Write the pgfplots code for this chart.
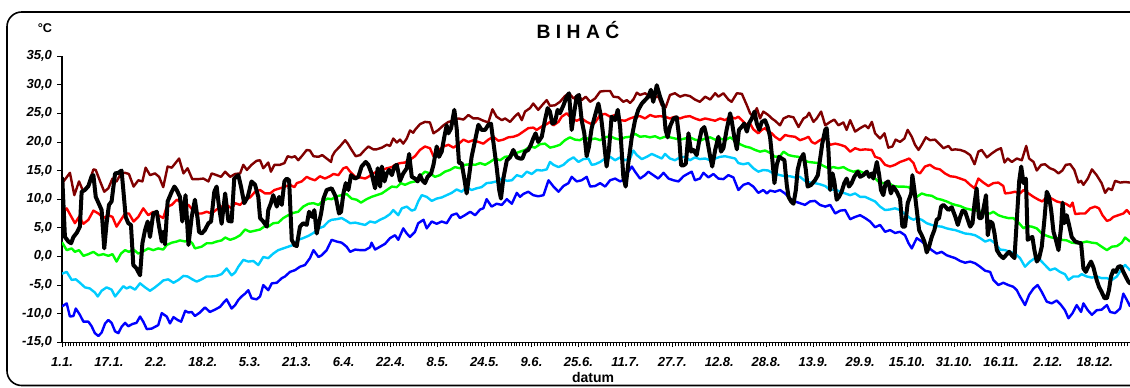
\documentclass[border=0pt]{standalone}
\usepackage{fontspec}
\setmainfont{Liberation Sans}
\usepackage{pgfplots}
\pgfplotsset{compat=1.18}
\definecolor{cmaroon}{HTML}{800000}
\definecolor{cred}{HTML}{FF0000}
\definecolor{cgreen}{HTML}{00FF00}
\definecolor{ccyan}{HTML}{00CCFF}
\definecolor{cblue}{HTML}{0000FF}
\begin{document}
\begin{tikzpicture}[x=0.75pt,y=0.75pt]
\useasboundingbox (0,0) rectangle (1130,387);
\draw[line width=1.2pt, rounded corners=11pt] (7,1.5) rectangle (1165,375);
\node[font=\bfseries\fontsize{14.5}{16}\selectfont] at (578,356.5) {B I H A Ć};
\node[font=\bfseries\fontsize{9.5}{11}\selectfont] at (45,358.5) {°C};
\node[font=\bfseries\fontsize{10.5}{12}\selectfont] at (593,10) {datum};
\begin{axis}[
  at={(46.5pt,33.525pt)}, anchor=south west,
  scale only axis, width=803.25pt, height=214.7pt,
  xmin=1, xmax=366, ymin=-15, ymax=35,
  axis x line*=bottom, axis y line*=left,
  axis line style={black, line width=0.9pt, -},
  xtick={1,17,...,353},
  xticklabels={1.1.,17.1.,2.2.,18.2.,5.3.,21.3.,6.4.,22.4.,8.5.,24.5.,9.6.,25.6.,11.7.,27.7.,12.8.,28.8.,13.9.,29.9.,15.10.,31.10.,16.11.,2.12.,18.12.},
  minor xtick={1,2,...,366},
  ytick={-15,-10,...,35},
  yticklabels={{-15,0},{-10,0},{-5,0},{0,0},{5,0},{10,0},{15,0},{20,0},{25,0},{30,0},{35,0}},
  tick label style={font=\bfseries\itshape\fontsize{9.8}{11}\selectfont},
  xticklabel style={yshift=-4.5pt},
  yticklabel style={xshift=-0.5pt},
  major tick length=3.5pt, minor tick length=3pt,
  tick style={black, line width=0.5pt},
  tick align=outside,
  every axis plot/.append style={line join=round, line cap=round},
]
\addplot[cmaroon, line width=1.8pt] coordinates {
(1.1,12.8)(3.7,14.6)(5.2,10.7)(6.8,13.1)(8.3,11.3)(10,12.5)(11.7,15.2)(12.5,15.1)(14,13.1)(15.4,11.3)(16.8,11.9)(18.2,13.6)(19.6,13.1)(21.1,14.5)(22.5,14.6)(23.8,14.4)(25.4,12.2)(27,13.3)(28.4,13.1)(29.5,15.5)(31,14.2)(32.7,14.5)(34.1,13.9)(35.5,12.1)(37,15.7)(38.4,15.5)(39.5,16.2)(40.9,17.1)(42.4,14.5)(43.8,15.4)(45.4,13.5)(47.5,13.5)(49.2,13.6)(50.9,13.1)(52,14.5)(53.7,14.2)(55.2,13.9)(56.6,14.8)(58.3,13.9)
(60,14.4)(61.7,14.5)(62.8,16.0)(64,15.1)(65.6,16.0)(67.3,16.7)(68.5,16.8)(69.6,15.4)(71.3,16.4)(72.2,14.8)(73.4,16.0)(75.3,16.0)(76.8,16.3)(77.9,17.5)(79.3,17.3)(80.4,17.5)(81.5,16.8)(82.7,17.5)(84.4,18.6)(85.5,18.5)(86.7,17.5)(88.4,17.4)(89.7,17.7)(91.2,17.1)(92.7,16.5)(93.1,17.5)(94,18.3)(95.7,19.2)(97.5,20.3)(98.4,19.7)(99.7,18.6)(101.1,17.5)(102.6,17.7)(104,18.5)(105.4,19.2)(107.1,18.7)(108.2,18.7)(110,19.0)(111.7,19.5)(112.8,19.3)(113.9,20.6)(115.1,19.9)(116.2,20.4)(117.3,19.7)(118.5,20.6)(119.6,22.0)(120.7,21.6)
(121.3,22.1)(123,23.1)(124.7,23.5)(126.4,23.4)(127.6,21.5)(129.3,22.1)(131,22.9)(132.7,23.5)(134.4,23.7)(136.1,24.1)(137.8,23.9)(139.5,24.7)(141.2,24.1)(142.9,24.1)(144.6,23.7)(146.3,23.4)(147.7,25.7)(149.1,24.4)(150.9,23.8)(152,24.1)(153.7,23.5)(155.4,24.5)(156.5,25.0)(157.7,23.8)(158.8,25.3)(160.5,25.9)(161.6,26.7)(163.3,25.6)(165.1,26.7)(166.2,27.3)(167.3,26.3)(169,26.4)(170.7,27.0)(172.4,28.0)(173.8,28.5)(175.3,27.6)(177,28.2)(178.1,27.3)(179.5,27.9)(181,27.0)(182.7,27.6)
(184.4,28.8)(186.1,28.9)(187.8,28.9)(188.9,27.9)(190.6,27.8)(192.3,27.0)(193.5,27.3)(194.6,26.8)(195.7,27.4)(196.9,28.6)(198,28.2)(199.7,28.5)(201.4,27.9)(202.5,27.6)(204.2,28.0)(205.4,26.4)(206.7,26.0)(208.2,28.2)(209.9,28.5)(211.6,27.9)(213.3,28.2)(215,28.0)(216.7,27.4)(218.4,27.0)(220.2,27.9)(221.9,27.4)(223.6,28.5)(224.7,27.9)(226.4,28.5)(228.1,27.4)(229.2,27.0)(231,28.5)(232.7,28.4)(234.4,26.4)(235.5,25.0)(236.6,24.4)(237.8,25.9)(238.9,24.1)(240,25.3)(241.7,24.7)(242.9,24.1)(244,23.7)
(245.7,22.9)(246.9,24.1)(248.6,24.5)(250.3,24.3)(252,22.6)(253.7,24.1)(254.8,24.4)(255.6,25.1)(257.1,23.5)(258.2,24.1)(259.7,25.3)(261.1,22.9)(262.8,23.5)(264.2,23.9)(265.6,22.9)(267.3,23.4)(268.4,22.1)(269.6,23.8)(271.3,21.8)(273,22.4)(274.7,22.9)(275.8,22.4)(277,23.5)(278.1,21.5)(279.8,20.6)(281.3,21.5)(282.6,19.0)(284,19.2)(285.1,20.4)(286.6,20.0)(288.1,20.6)(289.2,22.1)(290.6,20.9)(291.7,19.5)(292.9,18.6)(294,19.5)(295.4,20.8)(296.8,20.3)(298.5,20.4)(299.9,19.7)(301.4,18.9)(303.1,19.3)(304.2,18.6)(305.4,18.7)
(307.1,18.6)(308.8,18.3)(310.5,17.7)(312,16.1)(313.3,18.3)(314.4,18.6)(316.2,17.3)(317.9,18.0)(319.6,18.6)(321,18.9)(322.2,16.4)(323.3,17.1)(324.7,16.5)(326.4,17.1)(328.1,16.8)(329.6,19.3)(330.6,17.1)(332.1,16.5)(333.2,15.0)(334.7,16.0)(336,16.1)(337.7,15.4)(339.2,15.1)(340.6,14.5)(341.9,15.0)(343.1,16.0)(344.6,16.1)(346,15.1)(347.4,12.9)(348.3,13.2)(349.1,12.5)(350.6,13.6)(352,15.2)(353.6,14.2)(355.3,12.8)(356.5,11.1)(357.6,11.9)(358.8,11.6)(359.9,13.2)(361.6,12.9)(363.3,13.0)(365,12.9)
};
\addplot[cred, line width=1.8pt] coordinates {
(1.1,7.5)(2.6,8.4)(5.4,5.8)(6.8,6.9)(8.3,5.7)(10,6.4)(11.7,8.0)(13.4,7.5)(15.1,6.7)(16.8,7.2)(18.2,6.9)(19.6,5.2)(21.1,6.4)(22.5,7.5)(23.8,7.5)(25.4,6.1)(27,6.9)(28.7,8.4)(30.4,7.2)(32.1,7.8)(33.8,7.2)(35.5,6.7)(36.7,8.7)(38.4,9.0)(40.1,9.9)(41.2,9.6)(43,8.7)(44.1,9.0)(45.4,8.2)(46.9,7.5)(48.6,7.5)(50.3,7.8)(52,7.5)(53.7,8.2)(55.4,8.7)(57.1,9.0)(58.8,8.4)
(60,9.3)(61.7,9.0)(63.4,9.9)(65.1,10.3)(66.8,11.3)(68.5,11.6)(70.2,11.0)(71.9,11.0)(73.4,11.6)(75.3,11.9)(77,12.2)(78.7,12.5)(80.2,12.1)(81,12.8)(82.7,13.1)(84.4,13.9)(85.5,13.6)(87.2,13.3)(88.9,14.0)(90.6,13.6)(92.3,14.0)(93.5,14.4)(95.2,14.2)(96.9,15.4)(98,15.6)(99.2,14.8)(100.9,13.9)(102.6,13.8)(104.3,13.6)(105.4,13.9)(106.8,14.4)(108.2,14.8)(110,15.1)(111.7,15.4)(113.4,15.6)(114.5,16.0)(116.2,16.3)(117.9,16.4)(119,16.8)(120.2,17.1)(121.3,17.5)
(123,18.6)(124.7,19.2)(126.4,18.9)(127.6,17.5)(129.3,18.6)(131,19.2)(132.7,19.5)(134.4,19.0)(136.1,19.6)(137.8,20.4)(139.5,20.0)(141.2,20.3)(142.9,20.0)(144.6,19.7)(146.3,20.4)(148,20.9)(149.7,20.2)(151.4,20.4)(153.1,20.8)(154.8,20.9)(156.5,21.2)(158.2,21.8)(159.9,22.4)(161.6,22.5)(162.8,22.1)(164.5,22.7)(166.2,23.1)(167.3,23.5)(168.5,22.9)(170.2,23.5)(171.3,24.4)(173,25.0)(174.7,24.1)(176.4,23.7)(178.1,24.1)(179.8,23.5)(181.5,23.1)(182.7,23.4)
(184.4,24.7)(186.1,24.9)(187.8,24.4)(189.5,24.7)(191.2,23.8)(192.9,23.7)(194.6,24.1)(196.3,24.4)(198,24.5)(199.7,24.1)(201.4,24.7)(203.1,24.4)(204.8,24.5)(206.5,24.4)(208.2,24.1)(209.9,24.4)(211.6,24.1)(213.3,24.4)(215,24.5)(216.7,24.1)(218.4,23.8)(220.2,24.1)(221.9,23.9)(223.6,23.7)(225.3,24.1)(227,23.8)(228.7,24.4)(230.4,24.1)(231.5,24.4)(232.7,23.8)(234.4,22.9)(235.5,23.2)(236.6,22.2)(238.3,21.5)(239.5,22.1)(240.6,22.4)(241.7,21.8)(242.9,21.5)(244,20.9)
(245.7,20.3)(247.4,21.2)(249.1,21.0)(250.8,20.9)(252.5,20.3)(254.2,20.6)(255.4,20.9)(256.5,20.0)(257.6,19.7)(259.3,20.3)(261.1,20.8)(262.8,19.5)(264.5,19.7)(266.2,19.5)(267.9,19.2)(269.6,18.3)(271.3,18.9)(273,18.6)(274.7,18.7)(277,18.6)(278.1,17.4)(279.8,17.1)(281.5,16.0)(283.2,15.7)(284.9,16.0)(286.6,16.5)(288.3,16.8)(289.7,17.1)(291.2,16.3)(292.3,14.8)(293.4,14.5)(295.1,15.7)(296.8,16.0)(298.5,15.4)(300.2,15.2)(301.9,14.5)(303.7,14.0)(305.4,13.9)
(307.1,13.6)(308.8,13.3)(310.5,12.5)(312,11.9)(313.3,13.6)(315,12.9)(316.7,12.3)(318.4,12.8)(320.1,12.9)(321.8,12.3)(322.4,11.0)(324.1,11.1)(325.8,11.3)(327.5,11.0)(328.7,11.6)(330.4,11.0)(332.1,10.4)(333.8,9.9)(335.1,9.6)(336.6,10.4)(338.3,10.1)(340,9.6)(341.5,9.4)(343.1,9.2)(344.6,8.7)(345.4,9.4)(346.3,7.4)(348,7.5)(349.7,7.5)(351.4,8.4)(353.1,8.7)(354.4,8.4)(355.6,7.2)(357.1,6.2)(358.2,6.4)(359.3,6.9)(361,7.2)(362.7,7.5)(363.9,8.1)(365,7.4)
};
\addplot[cgreen, line width=1.8pt] coordinates {
(1.1,2.4)(2.6,1.1)(4.3,1.4)(5.4,0.8)(6.8,1.1)(8.3,0.1)(10,0.4)(11.7,0.8)(13.4,0.2)(15.1,0.4)(16.8,0.1)(18.2,0.4)(19.6,-0.9)(21.1,0.5)(22.5,1.1)(23.8,0.8)(25.4,1.2)(27,0.5)(28.4,0.8)(30.4,1.4)(32.1,1.1)(33.8,1.4)(35.5,1.2)(36.7,2.0)(38.4,2.4)(40.1,2.6)(41.2,2.8)(43,2.6)(44.1,2.9)(45.4,2.3)(46.3,1.4)(48.6,1.7)(50.3,2.3)(52,2.3)(53.7,2.6)(55.4,2.8)(56.6,3.3)(58.3,2.9)(60,3.2)
(61.7,3.7)(63.4,4.7)(65.1,4.3)(66.8,4.5)(68.5,4.7)(70.2,5.3)(71.3,5.2)(73,5.8)(74.7,5.9)(76.4,6.7)(78.1,7.2)(79.8,7.6)(81.5,7.8)(83.2,8.7)(85,9.2)(86.7,9.3)(88.4,9.0)(89.7,9.6)(91.5,10.1)(92.9,10.0)(94.6,10.5)(96.3,10.7)(98,10.9)(99.7,10.1)(101.4,9.9)(102.9,9.4)(104.8,10.0)(106.5,10.4)(108.2,10.7)(110,11.0)(111.7,11.6)(113.4,12.2)(115.1,12.1)(116.5,12.8)(117.9,12.5)(119.6,12.9)(121.3,13.1)
(123,14.0)(124.7,14.8)(126.4,14.5)(128.1,13.9)(129.8,14.2)(131.5,14.8)(133.2,15.1)(134.9,15.6)(136.6,15.4)(138.3,16.0)(140.1,16.1)(141.8,16.0)(143.5,16.3)(145.2,16.0)(146.9,16.5)(148.6,17.1)(150.3,16.8)(152,17.4)(153.7,17.5)(155.4,18.0)(157.1,18.3)(158.8,18.6)(160.5,19.2)(162.2,19.0)(163.9,19.6)(165.6,19.7)(167.3,19.0)(169,19.2)(170.7,19.5)(172.4,20.3)(174.1,20.8)(175.8,20.4)(177.5,20.3)(179.2,20.8)(180.9,20.4)(182.7,20.6)
(184.4,20.3)(186.1,20.8)(187.8,21.0)(189.5,20.6)(191.2,20.4)(192.9,20.8)(194.6,20.9)(196.3,21.4)(198,20.9)(199.7,21.0)(201.4,20.8)(203.1,21.0)(204.8,20.6)(206.5,20.9)(208.2,20.8)(209.9,20.6)(211.6,20.4)(213.3,20.6)(215,20.8)(216.7,20.4)(218.4,20.2)(220.2,20.6)(221.9,20.8)(223.6,20.4)(225.3,20.6)(227,20.3)(228.7,20.8)(230.4,20.2)(232.1,19.6)(233.8,19.2)(235.5,19.0)(237.2,18.6)(238.9,18.3)(240.6,18.5)(242.3,18.1)(244,17.4)
(245.7,17.5)(246.9,18.3)(248.6,17.7)(250.3,17.5)(252,17.4)(253.7,16.8)(255.4,16.5)(257.1,16.4)(258.8,16.3)(260.5,15.8)(262.2,15.4)(263.9,15.6)(265.6,15.4)(267.3,15.6)(269,15.1)(270.7,14.8)(272.4,15.0)(274.1,14.6)(275.8,14.5)(277.5,13.9)(279.2,13.1)(280.9,12.8)(282.6,12.9)(284.3,12.3)(286,12.2)(287.8,12.2)(289.5,12.1)(291.2,11.6)(292.3,10.4)(294,11.0)(295.7,10.7)(297.4,10.6)(299.1,10.1)(300.8,9.9)(302.5,9.6)(304.2,9.2)(305.4,9.0)
(307.1,8.8)(308.8,8.4)(310.5,8.2)(312.2,8.1)(313.9,7.8)(315.6,7.5)(317.3,7.5)(318.4,7.8)(320.1,7.2)(321.8,6.9)(323.5,6.7)(325.2,6.7)(327,5.9)(328.7,4.9)(329.8,5.3)(331.5,5.2)(333.2,4.9)(334.9,4.0)(336.6,3.6)(338.3,3.3)(340,3.2)(341.7,2.9)(343.4,2.8)(345.1,2.4)(346.8,2.3)(348.5,2.4)(350.2,2.6)(352,2.4)(353.6,2.3)(355.3,1.7)(357.1,1.1)(358.8,1.7)(360.5,1.8)(362.2,2.4)(363.3,3.3)(365,2.6)
};
\addplot[ccyan, line width=1.8pt] coordinates {
(1.1,-3.0)(2.6,-2.7)(4.3,-4.1)(5.7,-4.0)(7.1,-4.6)(8.8,-5.4)(10.5,-5.6)(12.2,-6.3)(13.2,-7.0)(14.5,-6.0)(16.2,-5.4)(17.9,-5.8)(19.1,-7.0)(20.8,-5.9)(21.9,-5.2)(23,-5.6)(24.2,-5.3)(25.9,-5.8)(27.6,-4.7)(29.3,-5.4)(31,-6.0)(32.7,-5.4)(34.4,-4.7)(35.5,-4.2)(37.2,-4.0)(39,-4.6)(40.7,-4.1)(42.4,-3.4)(43.8,-3.5)(45.4,-4.0)(46.9,-4.4)(48.6,-4.0)(50.3,-3.5)(52,-3.5)(53.7,-3.4)(55.4,-3.1)(57.1,-2.1)(58.8,-3.3)(60,-2.8)
(61.1,-1.8)(62.8,-0.6)(64.5,-0.9)(66.2,-0.8)(67.9,-1.5)(69.6,-0.1)(71.3,-0.3)(73,0.5)(74.7,1.1)(76.4,1.4)(78.1,1.7)(79.8,2.0)(81.5,2.9)(83.2,3.2)(85,3.6)(86.7,4.1)(88.4,4.9)(90.1,5.2)(91.8,6.1)(92.9,6.4)(94.6,6.5)(96.3,6.7)(98,6.2)(99.2,5.8)(100.9,5.9)(102.6,5.7)(104.3,5.5)(106,6.1)(107.7,5.9)(109.4,6.4)(111.1,6.8)(112.8,7.4)(113.9,8.1)(115.6,7.2)(116.8,8.4)(118.5,8.7)(120.2,8.0)(121.3,8.2)
(122.4,9.6)(123.6,10.7)(125.3,10.4)(127,9.7)(128.7,10.1)(130.4,10.3)(132.1,10.7)(133.8,11.1)(135.5,11.7)(137.2,11.3)(138.9,12.1)(140.6,11.6)(142.3,11.9)(144,12.1)(145.7,12.8)(147.4,12.9)(149.1,13.1)(150.9,13.6)(152.6,13.2)(154.3,13.3)(156,14.2)(157.7,13.9)(159.4,14.8)(161.1,14.4)(162.8,15.1)(164.5,15.0)(166.2,15.2)(167.3,16.5)(168.5,16.0)(170.2,15.6)(171.9,16.0)(173.6,16.8)(175.3,17.3)(177,16.5)(178.7,17.0)(180.4,17.1)(181.5,16.0)(182.7,16.1)
(184.4,16.5)(186.1,17.1)(187.8,17.4)(189.5,16.8)(191.2,17.3)(192.9,16.8)(194.6,17.1)(195.7,18.5)(196.9,17.7)(198.6,17.0)(200.3,17.4)(202,17.9)(203.7,17.5)(205.4,17.1)(206.5,17.9)(208.2,17.1)(209.9,16.8)(211.6,17.3)(213.3,17.4)(215,16.8)(216.7,17.3)(218.4,17.0)(220.2,17.1)(221.9,16.8)(223.6,17.1)(225.3,17.4)(227,17.5)(228.7,17.3)(230.4,17.1)(231.5,16.3)(233.2,16.1)(234.9,16.3)(236.6,15.4)(238.3,14.8)(240,15.1)(241.7,15.0)(243.4,14.5)
(245.7,14.2)(247.4,14.0)(249.1,14.0)(250.8,13.8)(252.5,13.9)(254.2,13.2)(255.9,12.9)(257.6,12.8)(259.3,12.6)(261.1,12.3)(262.8,11.6)(264.5,11.7)(266.2,11.3)(267.9,11.0)(269.6,10.7)(271.3,11.0)(273,10.4)(274.7,10.4)(276.4,10.0)(278.1,9.6)(279.8,8.7)(281.5,8.1)(283.2,8.2)(284.9,8.4)(286.6,8.1)(288.3,7.4)(290,6.7)(291.2,6.4)(292.3,6.7)(294,6.4)(295.7,5.8)(297.4,5.5)(299.1,5.3)(300.8,5.2)(302.5,4.9)(304.2,4.7)(305.4,4.6)
(307.1,4.3)(308.8,4.0)(310.5,3.9)(312.2,3.7)(313.9,3.2)(315.6,2.6)(317.3,2.9)(319,2.3)(320.7,1.2)(322.4,1.1)(324.1,0.8)(325.8,0.5)(327.5,-0.3)(329.2,-1.8)(330.9,-0.9)(332.6,-0.3)(334.3,-0.6)(336,-1.5)(337.7,-2.4)(339.4,-2.1)(341.1,-2.7)(342.8,-3.1)(344,-4.1)(345.7,-3.5)(347.4,-3.5)(348.5,-3.1)(350.2,-3.5)(352,-3.7)(353.6,-3.5)(355.3,-3.8)(357.1,-3.8)(358.8,-4.1)(360.5,-3.5)(362.2,-2.1)(363.3,-1.5)(365,-2.4)
};
\addplot[cblue, line width=1.8pt] coordinates {
(1.1,-8.7)(2.6,-8.2)(3.7,-10.5)(4.9,-10.4)(5.7,-9.1)(7.1,-10.2)(8.3,-11.4)(10,-11.4)(11.1,-12.2)(12.2,-13.4)(13.4,-13.9)(14.5,-13.3)(15.7,-11.7)(16.8,-11.1)(17.9,-11.6)(19.1,-13.1)(20.2,-13.4)(21.3,-12.3)(22.5,-11.6)(23.6,-12.2)(25,-11.8)(26.4,-11.6)(27.6,-10.5)(28.7,-11.4)(29.9,-12.7)(31.6,-12.6)(32.7,-12.3)(33.8,-12.0)(35,-9.9)(36.7,-10.5)(37.8,-11.7)(39,-10.6)(40.4,-11.1)(41.6,-11.4)(43,-9.5)(44.1,-9.8)(45.2,-9.7)(46.3,-10.4)(48,-9.8)(49.7,-8.9)(51.4,-9.7)(53.1,-9.3)(54.9,-8.8)(56,-8.1)(57.1,-7.5)(58.8,-9.1)(60,-8.5)
(61.1,-7.6)(62.2,-7.0)(63.4,-6.5)(64.5,-5.9)(65.6,-7.3)(67.3,-7.5)(68.5,-7.0)(69.6,-5.0)(71.3,-5.9)(72.5,-4.7)(74.2,-4.6)(75.9,-3.8)(77,-3.5)(78.7,-2.7)(80.4,-2.4)(82.1,-1.8)(83.8,-1.5)(85.5,-0.3)(86.7,1.1)(88.4,-0.1)(89.5,0.2)(91.2,1.1)(92.9,2.9)(94.6,2.6)(96.3,2.4)(98,1.7)(99.2,0.8)(100.9,1.2)(102.6,1.1)(104.3,1.1)(106,1.6)(106.5,2.4)(107.7,1.2)(109.4,1.7)(111.1,2.2)(112.8,3.2)(114.5,3.7)(115.6,2.9)(117.3,4.9)(118.5,4.0)(119.6,3.4)(121.3,4.3)
(122.4,5.8)(124.2,6.4)(125.3,4.9)(127,6.1)(128.7,5.7)(130.4,6.1)(132.1,5.8)(133.8,7.2)(135.5,7.5)(136.6,6.7)(138.3,7.2)(140.1,7.8)(141.8,7.2)(143.5,8.2)(144.6,8.4)(145.7,10.0)(147.4,8.7)(149.1,9.2)(150.9,9.0)(152.6,10.0)(154.3,9.2)(156,11.1)(157.1,10.4)(158.2,10.9)(159.9,11.3)(161.6,10.7)(163.3,10.5)(165.1,10.7)(166.8,13.3)(168.5,12.2)(170.2,11.3)(171.9,12.3)(173.6,12.8)(174.7,13.9)(176.4,13.1)(178.1,13.3)(179.8,13.9)(181,12.2)(182.7,12.3)
(184.4,12.8)(186.1,12.2)(187.8,13.3)(189.5,13.6)(191.2,13.1)(192.9,13.5)(194,14.8)(195.2,15.7)(196.3,14.8)(198,13.6)(199.7,14.2)(200.8,14.8)(202.5,14.2)(204.2,13.6)(206,14.6)(207.7,13.6)(209.4,13.3)(211.1,13.1)(212.8,14.0)(214.5,14.5)(215.6,14.8)(216.7,13.3)(218.4,13.6)(219.6,14.6)(221.3,13.8)(223,14.4)(224.7,13.6)(226.4,13.5)(228.1,14.2)(229.8,13.8)(231.5,11.6)(233.2,12.5)(234.9,12.8)(236.6,12.2)(238.3,11.1)(240,11.6)(241.2,11.0)(242.3,11.5)(244,11.3)
(245.7,11.6)(247.4,11.0)(249.1,10.1)(250.8,9.6)(252.5,9.3)(254.2,9.0)(255.9,9.6)(257.6,9.7)(259.3,9.0)(261.1,8.7)(262.8,9.0)(264.5,7.5)(266.2,8.0)(267.9,8.1)(269.6,6.5)(271.3,6.9)(273,7.2)(274.7,6.7)(276.4,6.1)(278.1,5.1)(279.8,5.5)(281.5,4.3)(283.2,4.6)(284.9,4.1)(286.6,4.3)(288.3,3.7)(289.5,2.3)(290.6,1.4)(292.3,3.2)(294,2.6)(295.7,1.8)(297.4,1.1)(299.1,0.5)(300.8,0.8)(302.5,0.2)(304.2,-0.1)(305.4,-0.3)
(307.1,-0.8)(308.8,-1.1)(310.5,-0.9)(312.2,-1.2)(313.9,-1.8)(315.6,-2.5)(317.3,-2.7)(318.4,-4.1)(320.1,-5.0)(321.8,-4.6)(323.5,-5.0)(325.2,-5.3)(326.4,-5.9)(327.5,-7.0)(329.2,-8.5)(330.6,-6.7)(332.1,-5.6)(333.5,-5.0)(334.9,-6.2)(336.6,-7.9)(338.3,-8.2)(340,-7.7)(341.5,-8.5)(342.8,-9.4)(344,-10.8)(345.4,-9.9)(346.8,-8.5)(348.3,-9.7)(349.1,-8.2)(350.6,-9.4)(352,-10.2)(353.6,-9.4)(355.3,-9.3)(357.1,-8.5)(358.2,-9.7)(359.9,-9.9)(361.6,-9.1)(362.7,-6.5)(363.9,-7.6)(365,-8.7)
};
\addplot[black, line width=3pt] coordinates {
(1.1,13.6)(2.0,3.4)(3.2,2.6)(4.1,2.3)(4.9,3.4)(6.0,4.1)(7.1,5.2)(7.7,11.3)(8.8,11.6)(10,12.3)(11.1,14.0)(11.7,14.2)(12.5,10.4)(14,8.7)(14.5,8.1)(15.4,1.4)(16.2,5.8)(17,9.0)(17.9,9.6)(19.1,14.5)(20.2,14.6)(21.3,15.0)(21.9,11.6)(22.7,6.9)(23.6,5.8)(24.5,5.5)(25.3,-1.5)(26.4,-2.1)(27.6,-3.3)(28.4,2.3)(29.3,4.6)(30.2,6.1)(31,3.4)(32.1,7.5)(33.3,7.8)(34.1,5.2)(35,2.6)(35.5,4.3)(36.1,2.1)(37,9.6)(38.4,11.3)(39.3,12.2)(40.1,11.6)(41.2,10.4)(42,6.1)(43.1,10.7)(44.1,2.0)(45.2,6.9)(46.3,9.9)(47.2,6.7)(47.7,4.3)(48.6,4.0)(49.7,4.6)(50.9,5.8)(51.8,6.1)(52.9,11.3)(53.7,12.2)(54.5,8.7)(55.4,5.7)(56.6,11.0)(57.7,6.2)(58.8,6.1)(59.7,13.6)
(61.1,14.2)(62,12.2)(63.1,9.3)(64.3,10.4)(65.6,13.1)(66.8,12.5)(67.9,10.4)(68.5,6.7)(69.6,6.1)(70.8,5.2)(71.3,8.1)(72.2,9.3)(73,10.7)(74.2,8.7)(75,10.4)(75.9,9.0)(76.8,13.1)(77.6,13.6)(78.4,13.3)(79.3,2.9)(80.2,2.0)(81,1.8)(82.1,5.2)(83.2,5.8)(84.4,5.5)(85.2,7.8)(86.3,6.9)(87,8.1)(87.8,4.0)(89.3,7.5)(90.1,10.1)(91.2,11.6)(92.9,11.9)(94.3,10.4)(95.4,7.5)(96.1,7.8)(96.9,11.0)(97.7,12.8)(98.6,11.6)(99.5,14.2)(100.9,13.6)(102,13.9)(103.1,15.7)(104.5,16.5)(105.4,16.0)(106.5,14.5)(107.7,11.9)(108.6,15.4)(109.4,12.2)(110,15.7)(110.9,13.1)(111.7,14.5)(112.5,15.1)(113.4,14.2)(114.3,15.7)(115.1,16.0)(116.2,13.2)(117.3,14.5)(118.5,15.4)(119.3,17.9)(120.2,13.9)(121.3,13.6)
(122.2,13.1)(123,14.2)(123.8,13.3)(124.7,12.8)(125.6,13.9)(126.8,14.5)(127.6,16.0)(128.7,19.2)(129.5,17.4)(130.4,18.3)(131.3,20.9)(132.1,22.9)(132.7,21.5)(133.6,22.4)(134.7,25.6)(135.5,22.4)(136.3,16.3)(137.2,16.3)(138.1,13.6)(138.9,11.0)(139.7,13.9)(140.6,17.4)(141.8,20.3)(142.9,23.0)(144,22.1)(145.2,22.1)(146.3,23.0)(147.2,23.2)(148,20.0)(149.1,15.7)(150,11.6)(150.6,10.1)(151.4,13.6)(152.6,16.8)(153.7,17.3)(154.8,18.6)(156,17.3)(157.1,17.1)(157.9,17.1)(158.8,18.3)(159.9,18.6)(160.8,19.5)(161.6,20.6)(162.4,21.5)(163.3,20.0)(164.5,20.9)(165.6,23.8)(166.5,25.9)(167.3,25.3)(168.1,23.2)(169,23.4)(169.9,25.6)(170.7,25.0)(171.9,26.4)(173,27.9)(173.8,28.5)(174.7,22.1)(175.6,25.3)(176.4,27.9)(177.2,28.2)(178.1,23.8)(179,21.5)(179.8,17.5)(180.6,19.2)(181.5,22.4)(182.7,24.7)
(183.8,26.7)(184.7,24.4)(185.5,20.9)(186.6,15.7)(187.4,18.6)(188.3,24.4)(189.5,23.8)(190.4,25.6)(191.2,22.7)(192.3,13.9)(193.1,12.2)(194,16.3)(195.2,20.9)(196.3,23.8)(197.4,25.6)(198.6,26.7)(199.7,27.3)(200.8,27.9)(201.7,29.1)(202.5,27.0)(203.7,29.9)(204.8,27.9)(206,26.2)(206.7,22.1)(207.4,20.8)(208.2,22.7)(209.4,24.1)(210.5,24.3)(211.3,20.9)(212,15.9)(212.8,15.9)(213.6,16.2)(214.5,21.5)(215.4,18.3)(216.2,18.6)(217.3,17.7)(218.1,20.0)(219,22.1)(219.9,22.6)(220.7,20.9)(221.9,17.4)(222.6,15.7)(223.6,18.6)(224.7,20.9)(225.6,18.3)(226.4,18.9)(227.5,22.1)(228.7,25.0)(229.2,23.8)(230.1,20.9)(231,18.7)(231.7,22.1)(232.6,22.6)(233.5,23.2)(234.4,21.8)(235.1,23.2)(236.1,24.1)(237,25.3)(237.8,23.2)(238.6,22.1)(239.5,23.5)(240.6,23.8)(241.5,22.6)(242.3,20.9)(243.1,16.8)(243.8,12.8)
(244.6,16.0)(245.4,17.4)(246.3,17.1)(247.2,16.8)(248,12.5)(248.6,10.4)(249.5,9.6)(250.3,9.2)(251.1,11.6)(251.7,15.1)(252.5,16.8)(253.7,17.9)(254.5,15.1)(255.1,12.2)(256.3,12.5)(257.6,13.3)(258.6,14.2)(259.3,16.8)(260.1,19.7)(261.1,22.1)(261.6,22.4)(262.2,18.6)(262.8,11.6)(263.6,14.5)(264.2,13.1)(265,9.9)(265.8,10.4)(266.7,11.3)(267.6,12.8)(268.4,13.6)(269.2,12.2)(270.1,12.8)(271,13.9)(272.2,14.8)(273,13.9)(274.1,14.2)(275.3,14.8)(276.1,13.9)(277,14.5)(277.5,13.6)(278.7,16.5)(279.5,14.2)(280.1,11.6)(280.9,10.7)(281.7,12.8)(282.6,13.1)(283.5,11.0)(284.3,12.2)(285.5,11.3)(286.6,10.1)(287.4,5.2)(288.3,5.2)(289.2,9.3)(290.4,11.0)(290.8,14.2)(291.5,11.6)(292.3,8.1)(293.1,4.6)(294,3.7)(294.9,2.6)(295.7,0.7)(296.5,1.7)(297.4,3.4)(298.3,4.6)(299.1,6.4)(299.9,6.7)(300.6,8.7)(301.4,9.0)(302.2,8.6)(303.1,8.1)(304.2,8.6)(305.4,7.0)
(306.3,5.5)(307.1,6.9)(307.9,8.0)(308.8,7.8)(309.7,6.4)(310.5,5.2)(311.3,5.8)(312,9.3)(312.7,11.9)(313.5,6.7)(314.4,6.7)(315.4,9.3)(315.9,10.7)(316.5,3.7)(317.3,6.1)(318.1,5.8)(318.8,4.0)(319.6,1.1)(320.7,0.2)(321.8,-0.3)(323,0.4)(323.8,0.8)(324.7,0.2)(325.6,-0.3)(326.4,6.4)(327.2,13.1)(327.9,15.7)(328.7,12.8)(329.5,13.6)(330.1,2.9)(330.9,3.2)(331.7,3.4)(332.4,1.1)(333.2,-0.9)(334,-0.3)(334.9,1.7)(335.8,6.4)(336.6,11.3)(337.4,10.4)(338.1,8.1)(338.9,4.3)(339.7,2.9)(340.6,1.1)(341.5,5.2)(342,9.4)(342.6,5.8)(343.4,7.2)(344.2,5.5)(345.1,3.4)(346.3,2.6)(347.4,2.4)(348.3,2.3)(349.1,-2.1)(349.9,-2.7)(350.8,-1.7)(351.7,-0.9)(352.5,-1.9)(353.6,-4.1)(354.4,-5.3)(355.3,-6.2)(356.3,-7.3)(357.1,-7.3)(357.8,-5.9)(358.5,-3.5)(359.3,-2.4)(360.1,-2.7)(361,-1.8)(361.9,-1.7)(362.7,-2.7)(363.5,-3.5)(364.4,-4.4)(365,-4.7)
};
\end{axis}
\end{tikzpicture}
\end{document}
